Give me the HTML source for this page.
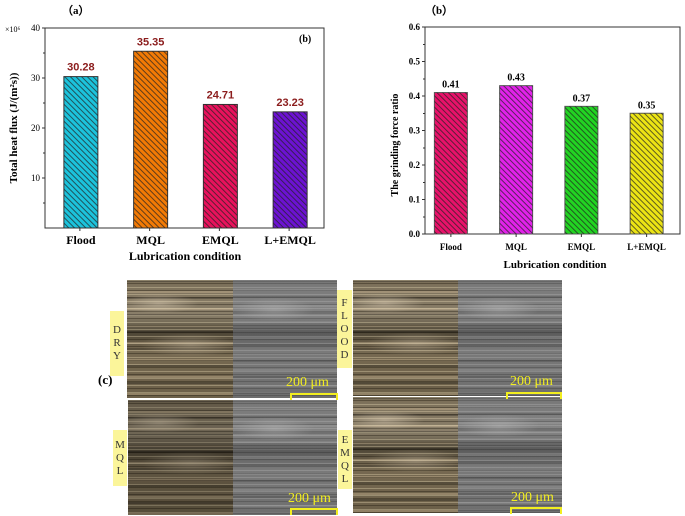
<!DOCTYPE html>
<html><head><meta charset="utf-8"><style>
body{margin:0;background:#fff;width:685px;height:516px;overflow:hidden;position:relative;font-family:"Liberation Serif",serif}
.img{position:absolute;overflow:hidden}
.col{background:
radial-gradient(ellipse 40px 10px at 30% 20%,rgba(230,215,190,.45),rgba(0,0,0,0)),
radial-gradient(ellipse 50px 12px at 60% 55%,rgba(220,205,180,.35),rgba(0,0,0,0)),
repeating-linear-gradient(180deg,rgba(255,240,200,.3) 0 1px,rgba(0,0,0,0) 1px 3px,rgba(20,15,5,.35) 3px 4px,rgba(0,0,0,0) 4px 7px),
repeating-linear-gradient(180deg,rgba(0,0,0,.25) 0 2px,rgba(0,0,0,0) 2px 11px,rgba(255,230,190,.25) 11px 13px,rgba(0,0,0,0) 13px 17px),
linear-gradient(180deg,#7a6e58,#8a7f6a 30%,#4e4636 45%,#776a52 60%,#6b5f48);}
.gry{background:
radial-gradient(ellipse 40px 12px at 40% 25%,rgba(200,200,200,.35),rgba(0,0,0,0)),
repeating-linear-gradient(180deg,rgba(255,255,255,.15) 0 1px,rgba(0,0,0,0) 1px 3px,rgba(0,0,0,.18) 3px 4px,rgba(0,0,0,0) 4px 7px),
repeating-linear-gradient(180deg,rgba(0,0,0,.15) 0 2px,rgba(0,0,0,0) 2px 9px,rgba(255,255,255,.1) 9px 11px,rgba(0,0,0,0) 11px 16px),
linear-gradient(180deg,#777,#858585 30%,#5a5a5a 45%,#7a7a7a 60%,#6e6e6e);}
.dark{filter:brightness(.8)}
.lab{position:absolute;background:#fbf59a;font-size:11px;color:#333;text-align:center;line-height:13px;display:flex;align-items:center;justify-content:center}
.sc{position:absolute;color:#f2ee20;font-size:14px;font-family:"Liberation Serif",serif}
.bar{position:absolute;height:5px;border:2px solid #f2ee20;border-bottom:none;}
</style></head><body>
<svg id="chart" width="685" height="280" style="position:absolute;left:0;top:0" font-family="Liberation Serif" font-weight="bold">
<defs>
<pattern id="h" width="4" height="4" patternUnits="userSpaceOnUse" patternTransform="rotate(45)"><rect width="4" height="1" fill="#222" opacity=".7"/></pattern>
</defs>
<g id="ga"></g><g id="gb"></g>
</svg>

<div class="img col" style="left:127px;top:280px;width:106px;height:118px"></div>
<div class="img gry" style="left:233px;top:280px;width:104px;height:118px"></div>
<div class="img col dark" style="left:128px;top:400px;width:105px;height:115px"></div>
<div class="img gry" style="left:233px;top:400px;width:104px;height:115px"></div>
<div class="img col" style="left:353px;top:280px;width:105px;height:116px"></div>
<div class="img gry" style="left:458px;top:280px;width:104px;height:116px"></div>
<div class="img col" style="left:353px;top:397px;width:105px;height:116px"></div>
<div class="img gry" style="left:458px;top:397px;width:104px;height:116px"></div>

<div class="lab" style="left:110px;top:311px;width:14px;height:65px">D<br>R<br>Y</div>
<div class="lab" style="left:337px;top:290px;width:15px;height:78px">F<br>L<br>O<br>O<br>D</div>
<div class="lab" style="left:113px;top:430px;width:14px;height:56px">M<br>Q<br>L</div>
<div class="lab" style="left:338px;top:430px;width:14px;height:59px">E<br>M<br>Q<br>L</div>
<div style="position:absolute;left:98px;top:372px;font-size:13px;font-weight:bold">(c)</div>

<div class="sc" style="left:286px;top:375px">200 μm</div>
<div class="bar" style="left:290px;top:393px;width:44px"></div>
<div class="sc" style="left:510px;top:374px">200 μm</div>
<div class="bar" style="left:506px;top:392px;width:52px"></div>
<div class="sc" style="left:288px;top:491px">200 μm</div>
<div class="bar" style="left:290px;top:508px;width:44px"></div>
<div class="sc" style="left:511px;top:490px">200 μm</div>
<div class="bar" style="left:510px;top:507px;width:48px"></div>

<script>
const categories=["Flood","MQL","EMQL","L+EMQL"];
const heatFlux=[30.28,35.35,24.71,23.23];
const heatLabels=["30.28","35.35","24.71","23.23"];
const forceRatio=[0.41,0.43,0.37,0.35];
const forceLabels=["0.41","0.43","0.37","0.35"];
const ticksA=[10,20,30,40];
const ticksB=[0,0.1,0.2,0.3,0.4,0.5,0.6];
const colorsA=["#1cc3dc","#f27a05","#e8125c","#6c12d2"];
const colorsB=["#e8126a","#e222ea","#22d422","#ece414"];
const NS="http://www.w3.org/2000/svg";
function mk(p,t,a,txt){const e=document.createElementNS(NS,t);for(const k in a)e.setAttribute(k,a[k]);if(txt!==undefined)e.textContent=txt;p.appendChild(e);return e;}

// Chart A
const ga=document.getElementById('ga');
const A={x0:45,x1:324,y0:228,y1:28,max:40};
const yA=v=>A.y0-(v/A.max)*(A.y0-A.y1);
const bwA=34, stepA=(A.x1-A.x0)/4;
const xA=i=>A.x0+stepA*(i+0.5)-bwA/2+1;
let e=mk(ga,'rect',{x:A.x0,y:A.y1,width:A.x1-A.x0,height:A.y0-A.y1,fill:'none',stroke:'#333','stroke-width':1});

ticksA.forEach(t=>{const y=yA(t);mk(ga,'line',{x1:A.x0-3,x2:A.x0,y1:y,y2:y,stroke:'#333'});
 let tl=mk(ga,'text',{x:A.x0-5,y:y+3,'font-size':9,'text-anchor':'end','font-weight':'normal'},t);
 
 mk(ga,'line',{x1:A.x0-2,x2:A.x0,y1:y+25,y2:y+25,stroke:'#333'});});
mk(ga,'text',{x:5,y:32,'font-size':8,'font-weight':'normal'},'×10⁶');
heatFlux.forEach((v,i)=>{const x=xA(i),y=yA(v);
 let r=mk(ga,'rect',{x:x,y:y,width:bwA,height:A.y0-y,fill:colorsA[i],stroke:'#333','stroke-width':1});
 
 mk(ga,'rect',{x:x,y:y,width:bwA,height:A.y0-y,fill:'url(#h)'});
 let l=mk(ga,'text',{x:x+bwA/2,y:y-6,'font-size':11,'text-anchor':'middle',fill:'#8b1c1c','font-family':'Liberation Sans'},heatLabels[i]);
 
 let c=mk(ga,'text',{x:x+bwA/2,y:244,'font-size':12,'text-anchor':'middle'},categories[i]);
 
 mk(ga,'line',{x1:A.x0+stepA*(i+0.5),x2:A.x0+stepA*(i+0.5),y1:A.y0,y2:A.y0+3,stroke:'#333'});});
e=mk(ga,'text',{x:185,y:260,'font-size':12,'text-anchor':'middle'},'Lubrication condition');
e=mk(ga,'text',{x:0,y:0,'font-size':11,'text-anchor':'middle',transform:'translate(17,128) rotate(-90)'},'Total heat flux (J/(m²s))');
e=mk(ga,'text',{x:62,y:14,'font-size':11},'（a）');
e=mk(ga,'text',{x:299,y:42,'font-size':10},'(b)');

// Chart B
const gb=document.getElementById('gb');
const B={x0:425,x1:680,y0:234,y1:27,max:0.6};
const yB=v=>B.y0-(v/B.max)*(B.y0-B.y1);
const bwB=33, stepB=(B.x1-B.x0)/4;
const xB=i=>B.x0+stepB*(i+0.5)-bwB/2-6+i*1.5;
e=mk(gb,'rect',{x:B.x0,y:B.y1,width:B.x1-B.x0,height:B.y0-B.y1,fill:'none',stroke:'#333','stroke-width':1});

ticksB.forEach(t=>{const y=yB(t);mk(gb,'line',{x1:B.x0-3,x2:B.x0,y1:y,y2:y,stroke:'#333'});
 let tl=mk(gb,'text',{x:B.x0-5,y:y+3,'font-size':9,'text-anchor':'end'},t.toFixed(1));
 
 if(t<0.6)mk(gb,'line',{x1:B.x0-2,x2:B.x0,y1:y-17,y2:y-17,stroke:'#333'});});
forceRatio.forEach((v,i)=>{const x=xB(i),y=yB(v);
 let r=mk(gb,'rect',{x:x,y:y,width:bwB,height:B.y0-y,fill:colorsB[i],stroke:'#555','stroke-width':1});
 
 mk(gb,'rect',{x:x,y:y,width:bwB,height:B.y0-y,fill:'url(#h)'});
 let l=mk(gb,'text',{x:x+bwB/2,y:y-5,'font-size':10,'text-anchor':'middle'},forceLabels[i]);
 
 let c=mk(gb,'text',{x:x+bwB/2,y:250,'font-size':9,'text-anchor':'middle'},categories[i]);
 
 mk(gb,'line',{x1:x+bwB/2,x2:x+bwB/2,y1:B.y0,y2:B.y0+3,stroke:'#333'});});
e=mk(gb,'text',{x:555,y:268,'font-size':11,'text-anchor':'middle'},'Lubrication condition');
e=mk(gb,'text',{x:0,y:0,'font-size':10,'text-anchor':'middle',transform:'translate(398,145) rotate(-90)'},'The grinding force ratio');
e=mk(gb,'text',{x:425,y:14,'font-size':11},'（b）');
</script>
</body></html>
